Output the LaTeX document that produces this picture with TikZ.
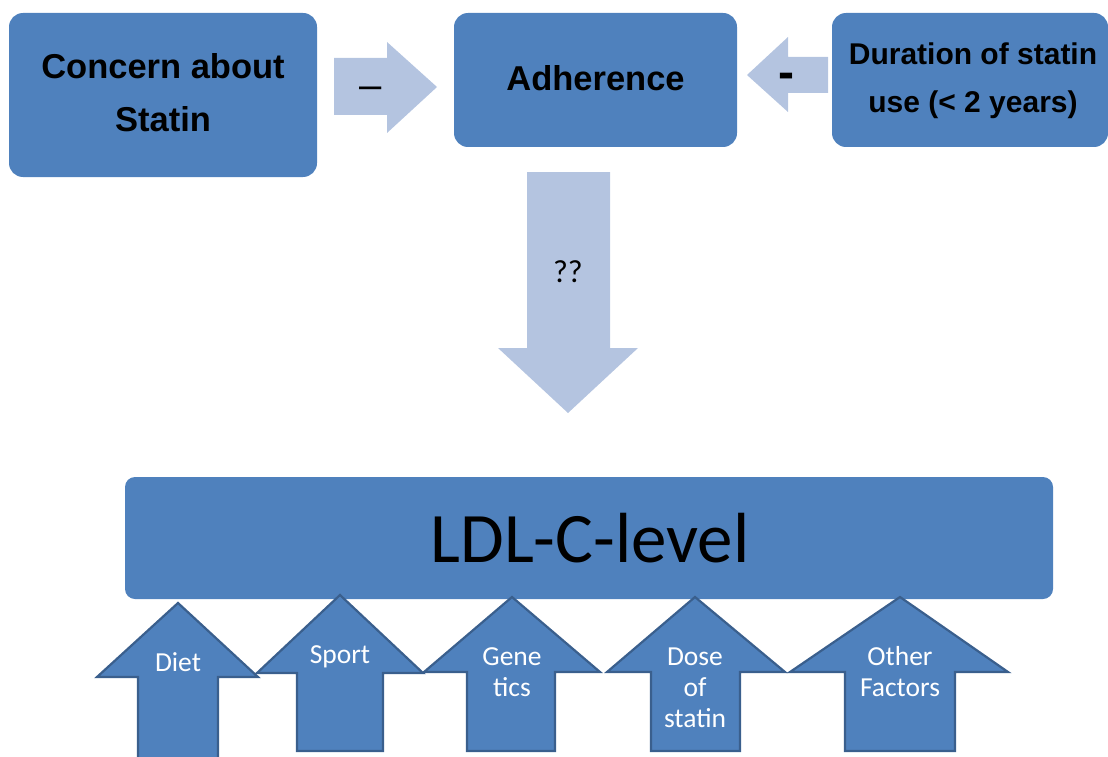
\documentclass[tikz,border=0pt]{standalone}
\usepackage{fontspec}
\setmainfont{Liberation Sans}
\newfontfamily\calibri{Carlito}
\definecolor{boxblue}{HTML}{4F81BD}
\definecolor{lightarrow}{HTML}{B4C4E0}
\definecolor{edgeblue}{HTML}{3A5F8D}
\begin{document}
\begin{tikzpicture}[x=1pt,y=-1pt,
  box/.style={fill=boxblue, draw=none, rounded corners=14pt, inner sep=0pt},
  toptext/.style={align=center, text=black, font=\fontsize{34.5}{53}\selectfont\bfseries},
  durtext/.style={align=center, text=black, font=\fontsize{30}{48}\selectfont\bfseries},
  lightarrowstyle/.style={fill=lightarrow, draw=none},
  uparrowstyle/.style={fill=boxblue, draw=edgeblue, line width=2.2pt, line join=miter},
  factortext/.style={align=center, text=white, font=\calibri\fontsize{27.5}{31}\selectfont},
]
\useasboundingbox (0,0) rectangle (1108,757);

% top boxes
\node[box, minimum width=308pt, minimum height=164pt] (concern) at (163,95) {};
\node[toptext] (concernlbl) at (163,93) {Concern about\\Statin};

\node[box, minimum width=283pt, minimum height=134pt] (adh) at (595.5,80) {};
\node[toptext] (adhlbl) at (595.5,78) {Adherence};

\node[box, minimum width=276pt, minimum height=134pt] (dur) at (970,80) {};
\node[durtext] (durlbl) at (973,81) {Duration of statin\\use (< 2 years)};

% light block arrows
\path[lightarrowstyle] (334,58) -- (387,58) -- (387,42) -- (437,87) -- (387,133) -- (387,115) -- (334,115) -- cycle;
\node[font=\fontsize{40}{40}\selectfont] (minus1) at (371,93) {–};

\path[lightarrowstyle] (828,57) -- (788,57) -- (788,37) -- (747,75) -- (788,112) -- (788,93) -- (828,93) -- cycle;
\node[font=\fontsize{48}{48}\selectfont\bfseries] (minus2) at (786,81) {-};

\path[lightarrowstyle] (527,172) -- (610,172) -- (610,348) -- (638,348) -- (568,413) -- (498,348) -- (527,348) -- cycle;
\node[font=\calibri\fontsize{32}{32}\selectfont] (qq) at (568,272) {??};

% LDL box
\node[box, rounded corners=10pt, minimum width=928pt, minimum height=122pt] (ldl) at (589,538) {};
\node[font=\calibri\fontsize{71}{71}\selectfont, text=black] (ldllbl) at (590,538) {LDL-C-level};

% factor arrows
\path[uparrowstyle] (178,603) -- (258,677) -- (218,677) -- (218,762) -- (138,762) -- (138,677) -- (97,677) -- cycle;
\node[factortext] (diet) at (178,662) {Diet};

\path[uparrowstyle] (340,595) -- (423,673) -- (383,673) -- (383,751) -- (297,751) -- (297,673) -- (257,673) -- cycle;
\node[factortext] (sport) at (340,657) {Sport};

\path[uparrowstyle] (512,597) -- (600,672) -- (555,672) -- (555,751) -- (467,751) -- (467,672) -- (424,672) -- cycle;
\node[factortext] (genetics) at (512,672) {Gene\\tics};

\path[uparrowstyle] (695,597) -- (785,672) -- (740,672) -- (740,751) -- (651,751) -- (651,672) -- (607,672) -- cycle;
\node[factortext] (dose) at (695,688) {Dose\\of\\statin};

\path[uparrowstyle] (900,597) -- (1008,672) -- (955,672) -- (955,751) -- (845,751) -- (845,672) -- (790,672) -- cycle;
\node[factortext] (other) at (900,672) {Other\\Factors};
\end{tikzpicture}
\end{document}
